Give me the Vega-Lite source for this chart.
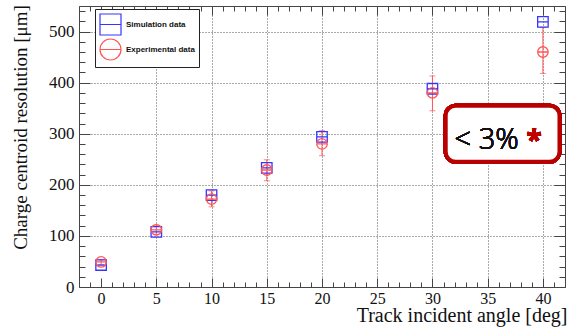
{
  "$schema": "https://vega.github.io/schema/vega-lite/v6.json",
  "width": 486,
  "height": 281,
  "autosize": {"type": "none"},
  "padding": {"left": 79, "top": 6, "right": 2, "bottom": 44},
  "background": "white",
  "config": {
    "view": {"stroke": "#444", "strokeWidth": 1},
    "axis": {"domain": false, "labelFont": "Liberation Serif", "titleFont": "Liberation Serif", "labelColor": "#111", "titleColor": "#111", "tickColor": "#444", "titleFontWeight": "normal"}
  },
  "data": {
    "values": [
      {"angle": 0, "value": 43, "series": "Simulation data"},
      {"angle": 5, "value": 108, "series": "Simulation data"},
      {"angle": 10, "value": 180, "series": "Simulation data"},
      {"angle": 15, "value": 233, "series": "Simulation data"},
      {"angle": 20, "value": 294, "series": "Simulation data"},
      {"angle": 30, "value": 388, "series": "Simulation data"},
      {"angle": 40, "value": 519, "series": "Simulation data"},
      {"angle": 0, "value": 49, "lo": 44, "hi": 54, "series": "Experimental data"},
      {"angle": 5, "value": 112, "lo": 103, "hi": 121, "series": "Experimental data"},
      {"angle": 10, "value": 172, "lo": 157, "hi": 188, "series": "Experimental data"},
      {"angle": 15, "value": 229, "lo": 208, "hi": 249, "series": "Experimental data"},
      {"angle": 20, "value": 280, "lo": 257, "hi": 306, "series": "Experimental data"},
      {"angle": 30, "value": 380, "lo": 345, "hi": 413, "series": "Experimental data"},
      {"angle": 40, "value": 460, "lo": 418, "hi": 508, "series": "Experimental data"}
    ]
  },
  "resolve": {"axis": {"x": "independent", "y": "independent"}},
  "layer": [
    {
      "mark": {"type": "rect", "cornerRadius": 10, "stroke": "#b80000", "strokeWidth": 4, "fill": "white"},
      "encoding": {
        "x": {"datum": 31.2, "type": "quantitative", "axis": null},
        "x2": {"datum": 41.5},
        "y": {"datum": 355, "type": "quantitative", "axis": null},
        "y2": {"datum": 245}
      }
    },
    {
      "mark": {"type": "text", "font": "Open Sans", "fontSize": 29, "fontWeight": 300, "color": "#111", "baseline": "middle", "align": "center"},
      "encoding": {
        "x": {"datum": 34.9, "type": "quantitative", "axis": null},
        "y": {"datum": 287, "type": "quantitative", "axis": null},
        "text": {"value": "< 3%"}
      }
    },
    {
      "mark": {"type": "text", "font": "Open Sans", "fontSize": 28, "fontWeight": "bold", "color": "#c00000", "baseline": "middle", "align": "center"},
      "encoding": {
        "x": {"datum": 39.2, "type": "quantitative", "axis": null},
        "y": {"datum": 284, "type": "quantitative", "axis": null},
        "text": {"value": "*"}
      }
    },
    {
      "transform": [{"filter": "datum.series === 'Experimental data'"}],
      "mark": {"type": "errorbar", "ticks": {"size": 6, "color": "#ff5555"}, "rule": {"color": "#ff5555"}},
      "encoding": {
        "x": {"field": "angle", "type": "quantitative", "axis": null},
        "y": {"field": "lo", "type": "quantitative", "axis": null},
        "y2": {"field": "hi"}
      }
    },
    {
      "mark": {"type": "point", "opacity": 0},
      "encoding": {
        "x": {"field": "angle", "type": "quantitative",
          "axis": {"orient": "bottom", "values": [-2,-1,0,1,2,3,4,5,6,7,8,9,10,11,12,13,14,15,16,17,18,19,20,21,22,23,24,25,26,27,28,29,30,31,32,33,34,35,36,37,38,39,40,41,42],
            "labels": false, "title": null, "grid": false,
            "tickSize": {"condition": {"test": "datum.value % 5 === 0", "value": -9}, "value": -5}}},
        "y": {"field": "value", "type": "quantitative",
          "axis": {"orient": "left", "values": [0,20,40,60,80,100,120,140,160,180,200,220,240,260,280,300,320,340,360,380,400,420,440,460,480,500,520,540],
            "labels": false, "title": null, "grid": false,
            "tickSize": {"condition": {"test": "datum.value % 100 === 0", "value": -11}, "value": -6}}}
      }
    },
    {
      "mark": {"type": "point", "opacity": 0},
      "encoding": {
        "x": {"field": "angle", "type": "quantitative",
          "axis": {"orient": "top", "values": [-2,-1,0,1,2,3,4,5,6,7,8,9,10,11,12,13,14,15,16,17,18,19,20,21,22,23,24,25,26,27,28,29,30,31,32,33,34,35,36,37,38,39,40,41,42],
            "labels": false, "title": null, "grid": false,
            "tickSize": {"condition": {"test": "datum.value % 5 === 0", "value": -9}, "value": -5}}},
        "y": {"field": "value", "type": "quantitative",
          "axis": {"orient": "right", "values": [0,20,40,60,80,100,120,140,160,180,200,220,240,260,280,300,320,340,360,380,400,420,440,460,480,500,520,540],
            "labels": false, "title": null, "grid": false,
            "tickSize": {"condition": {"test": "datum.value % 100 === 0", "value": -11}, "value": -6}}}
      }
    },
    {
      "mark": {"type": "point", "filled": false, "strokeWidth": 1.3, "size": 110, "opacity": 1},
      "encoding": {
        "x": {"field": "angle", "type": "quantitative",
          "scale": {"domain": [-2, 42], "nice": false, "zero": false},
          "axis": {"orient": "bottom", "values": [0, 5, 10, 15, 20, 25, 30, 35, 40],
            "ticks": false, "labelFontSize": 16, "labelPadding": 3, "labelFlush": false,
            "grid": true, "gridColor": "#555", "gridDash": [1, 2], "gridWidth": 1,
            "gridOpacity": {"condition": {"test": "datum.value > 0 && datum.value < 41", "value": 1}, "value": 0},
            "title": "Track incident angle [deg]", "titleFontSize": 20, "titleAlign": "right", "titleAnchor": "end", "titleX": 488, "titleY": 34, "titleBaseline": "alphabetic"}},
        "y": {"field": "value", "type": "quantitative",
          "scale": {"domain": [0, 550], "nice": false, "zero": false},
          "axis": {"orient": "left", "values": [0, 100, 200, 300, 400, 500],
            "ticks": false, "labelFontSize": 17, "labelPadding": 5, "labelFlush": false,
            "grid": true, "gridColor": "#555", "gridDash": [1, 2], "gridWidth": 1,
            "gridOpacity": {"condition": {"test": "datum.value > 0", "value": 1}, "value": 0},
            "title": "Charge centroid resolution [μm]", "titleFontSize": 19, "titleAngle": -90, "titleX": -59, "titleY": 121, "titleAlign": "center", "titleBaseline": "middle"}},
        "color": {"field": "series", "type": "nominal",
          "scale": {"domain": ["Simulation data", "Experimental data"], "range": ["#3535ff", "#ff5555"]},
          "legend": {"orient": "none", "legendX": 16, "legendY": 3, "title": null, "strokeColor": "#222", "fillColor": "white", "padding": 4,
            "labelFont": "Liberation Sans", "labelFontWeight": "bold", "labelFontSize": 8, "labelColor": "#111", "labelOffset": 4,
            "symbolSize": 441, "symbolStrokeWidth": 1.2, "rowPadding": -11}},
        "shape": {"field": "series", "type": "nominal",
          "scale": {"domain": ["Simulation data", "Experimental data"], "range": ["M-1,-1H1V1H-1Z M-1,0H1", "M-1,0A1,1 0 1,0 1,0A1,1 0 1,0 -1,0Z M-1,0H1"]},
          "legend": null}
      }
    }
  ]
}
